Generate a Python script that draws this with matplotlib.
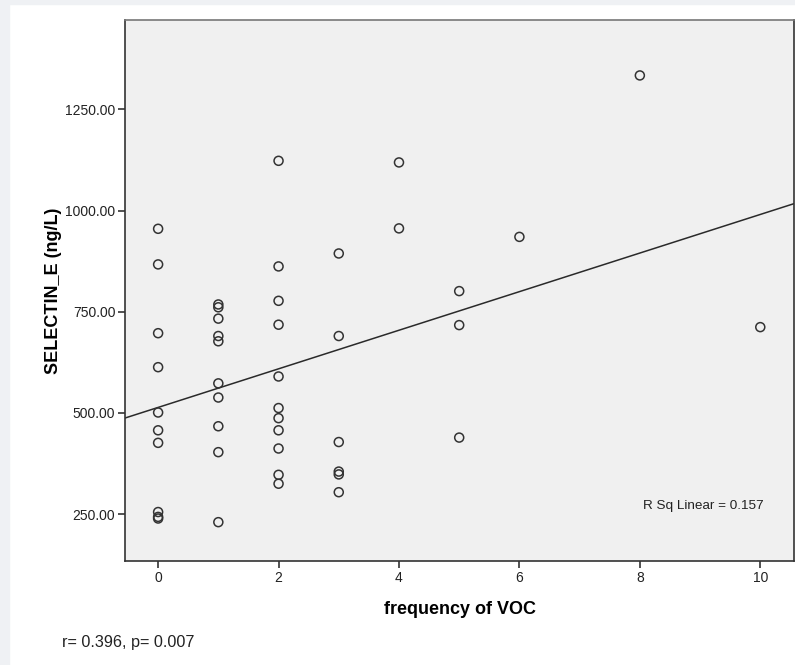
import matplotlib.pyplot as plt
from matplotlib.patches import Rectangle
import numpy as np

plt.rcParams['font.family'] = ['Liberation Sans', 'DejaVu Sans']

# frequency of VOC vs SELECTIN_E (ng/L)
voc_0 = [955, 867, 697, 613, 501, 457, 426, 255, 243, 239]
voc_1 = [768, 761, 733, 690, 677, 573, 538, 467, 403, 230]
voc_2 = [1123, 862, 777, 718, 590, 512, 487, 457, 412, 347, 325]
voc_3 = [894, 690, 428, 355, 348, 304]
voc_4 = [1119, 956]
voc_5 = [801, 717, 439]
voc_6 = [935]
voc_8 = [1334]
voc_10 = [712]

groups = {0: voc_0, 1: voc_1, 2: voc_2, 3: voc_3, 4: voc_4,
          5: voc_5, 6: voc_6, 8: voc_8, 10: voc_10}
freq = np.array([k for k, v in groups.items() for _ in v], dtype=float)
selectin = np.array([y for v in groups.values() for y in v], dtype=float)

x_ticks = [0, 2, 4, 6, 8, 10]
y_ticks = [250, 500, 750, 1000, 1250]
xlim = (-0.55, 10.56)
ylim = (134, 1471)

fig = plt.figure(figsize=(7.95, 6.65), dpi=100)
fig.patch.set_facecolor('white')
# grey page margin at left and top
fig.patches.append(Rectangle((0, 0), 9 / 795, 1, transform=fig.transFigure,
                             color='#eff1f4', zorder=0))
fig.patches.append(Rectangle((0, 1 - 4 / 665), 1, 4 / 665, transform=fig.transFigure,
                             color='#eff1f4', zorder=0))

ax = fig.add_axes([125 / 795, 104 / 665, 669 / 795, 541 / 665])
ax.set_facecolor('#f0f0f0')

ax.scatter(freq, selectin, s=42, facecolors='none', edgecolors='#333333',
           linewidths=1.1, zorder=3)

slope, intercept = np.polyfit(freq, selectin, 1)
xs = np.array(xlim)
ax.plot(xs, slope * xs + intercept, color='#2a2a2a', lw=1.1, zorder=2)

ax.set_xlim(*xlim)
ax.set_ylim(*ylim)
ax.set_xticks(x_ticks)
ax.set_yticks(y_ticks)
ax.set_yticklabels([f'{v:.2f}' for v in y_ticks])
ax.tick_params(axis='both', direction='out', length=5, width=1.2,
               color='#333333', labelsize=10, labelcolor='#222222', pad=2)

for side in ['left', 'bottom', 'top', 'right']:
    ax.spines[side].set_color('#333333')
    ax.spines[side].set_linewidth(1.2)
ax.spines['top'].set_color('#777777')

ax.set_xlabel('frequency of VOC', fontsize=13, fontweight='bold', labelpad=12)
ax.set_ylabel('SELECTIN_E (ng/L)', fontsize=13, fontweight='bold', labelpad=2)

fig.text(764 / 795, 1 - 506 / 665, 'R Sq Linear = 0.157',
         ha='right', va='center', fontsize=9.7, color='#222222')
fig.text(62 / 795, 1 - 642 / 665, 'r= 0.396, p= 0.007', ha='left', va='center',
         fontsize=11.7, color='#222222')

fig.savefig('out.png', dpi=100, facecolor=fig.get_facecolor())
